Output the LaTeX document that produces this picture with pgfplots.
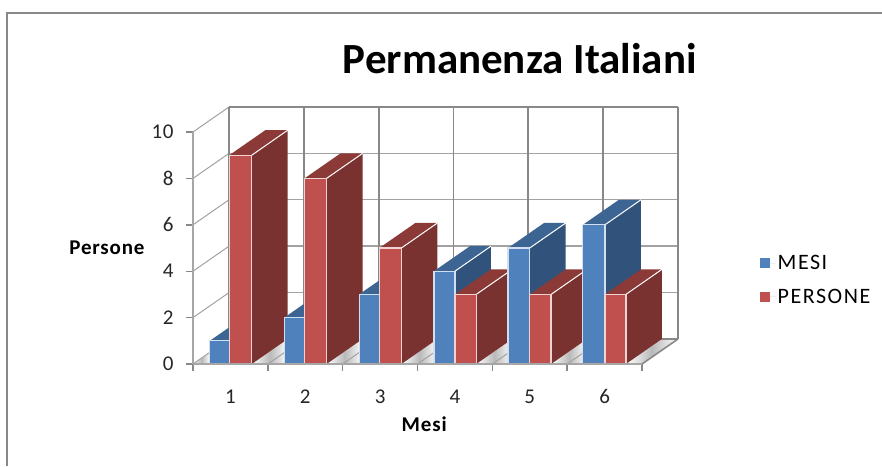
\documentclass[border=0pt]{standalone}
\usepackage{fontspec}
\setmainfont{Carlito}
\newfontfamily\spaziato[LetterSpace=7]{Carlito}
\newfontfamily\cifre[LetterSpace=3]{Carlito}
\newfontfamily\etichetta[LetterSpace=4]{Carlito Bold}
\usepackage{pgfplots}
\pgfplotsset{compat=1.18}
\definecolor{griglia}{HTML}{888888}
\definecolor{griglial}{HTML}{A2A2A2}
\definecolor{assi}{HTML}{A6A6A6}
\definecolor{bluF}{HTML}{4F81BD}
\definecolor{bluL}{HTML}{31527A}
\definecolor{bluT}{HTML}{3C6594}
\definecolor{rosF}{HTML}{C0504D}
\definecolor{rosL}{HTML}{7A3230}
\definecolor{rosT}{HTML}{8C3A38}
% oblique offset of the depth direction, in axis units
\newcommand{\px}{0.481}
\newcommand{\py}{1.078}
% one column: left edge, right edge, value, palette prefix
\newcommand{\colonna}[4]{%
  \pgfmathsetmacro\xB{#2+\px}%
  \pgfmathsetmacro\xC{#1+\px}%
  \pgfmathsetmacro\yC{#3+\py}%
  \addplot[fill=#4L,draw=none,forget plot] coordinates {(#2,0)(\xB,\py)(\xB,\yC)(#2,#3)} --cycle;
  \addplot[fill=#4T,draw=none,forget plot] coordinates {(#1,#3)(#2,#3)(\xB,\yC)(\xC,\yC)} --cycle;
  \addplot[draw=white,line width=1pt,forget plot] coordinates {(#2,#3)(\xB,\yC)};
  \addplot[fill=#4F,draw=white!75!#4F,line width=1.2pt,forget plot] coordinates {(#1,0)(#2,0)(#2,#3)(#1,#3)} --cycle;
}
\tikzset{pavimento/.style={left color=white,right color=white,middle color=gray!55,draw=none}}
\begin{document}
\begin{tikzpicture}[x=1pt,y=1pt]
\fill[white,use as bounding box] (0,0) rectangle (882,466);
\draw[griglia,line width=1.2pt] (7,0) -- (7,453) -- (882,453);
\begin{axis}[
  at={(193pt,102pt)},anchor=south west,
  scale only axis,width=449pt,height=232pt,
  xmin=0,xmax=6,ymin=0,ymax=10,
  clip=false,no markers,axis on top,
  axis x line=bottom,axis y line=left,
  axis line style={-,draw=assi,line width=2.2pt},
  xtick={0,1,2,3,4,5,6},xticklabels={},
  ytick={0,2,4,6,8,10},
  extra x ticks={0.5,1.5,2.5,3.5,4.5,5.5},
  extra x tick labels={1,2,3,4,5,6},
  extra x tick style={major tick length=0pt},
  tick style={draw=griglia,line width=1.4pt},
  tick align=outside,major tick length=7pt,
  /pgf/number format/assume math mode=true,
  tick label style={font=\fontsize{21}{21}\selectfont\cifre,text=black!85},
  xticklabel style={yshift=-22pt},
  yticklabel style={xshift=-9pt},
  title={Permanenza Italiani},
  title style={at={(rel axis cs:0.728,1.29)},anchor=center,font=\fontsize{43}{43}\selectfont\bfseries},
  xlabel={Mesi},
  xlabel style={at={(rel axis cs:0.515,-0.26)},anchor=center,font=\fontsize{21}{21}\selectfont\etichetta},
  ylabel={Persone},
  ylabel style={at={(axis cs:-1.15,5)},rotate=-90,anchor=center,font=\fontsize{21}{21}\selectfont\etichetta},
  legend style={at={(axis cs:7.53,4.87)},anchor=north west,draw=none,fill=none,
    font=\fontsize{22}{22}\selectfont\spaziato,row sep=14pt},
  legend image code/.code={\path (0pt,0pt) -- (16pt,0pt);\fill[#1] (0pt,-5pt) rectangle (10pt,5pt);},
  legend cell align=left,
]
% floor patches left visible between the columns
\addplot[pavimento,forget plot] coordinates {(0,0)(0.225,0)(0.225,0.5)} --cycle;
\addplot[pavimento,forget plot] coordinates {(0.785,0)(1.22,0)(1.266,1.078)} --cycle;
\addplot[pavimento,forget plot] coordinates {(1.785,0)(2.22,0)(2.266,1.078)} --cycle;
\addplot[pavimento,forget plot] coordinates {(2.785,0)(3.22,0)(3.266,1.078)} --cycle;
\addplot[pavimento,forget plot] coordinates {(3.785,0)(4.21,0)(4.266,1.078)} --cycle;
\addplot[pavimento,forget plot] coordinates {(4.785,0)(5.21,0)(5.266,1.078)} --cycle;
\addplot[pavimento,forget plot] coordinates {(5.785,0)(6,0)(6.481,1.078)(6.266,1.078)} --cycle;
\addplot[griglia,line width=1.6pt,forget plot] coordinates {(6,0)(6.481,1.078)};
% depth lines across the floor
\addplot[griglial,line width=1pt,forget plot] coordinates {(1,0)(1.481,1.078)};
\addplot[griglial,line width=1pt,forget plot] coordinates {(2,0)(2.481,1.078)};
\addplot[griglial,line width=1pt,forget plot] coordinates {(3,0)(3.481,1.078)};
\addplot[griglial,line width=1pt,forget plot] coordinates {(4,0)(4.481,1.078)};
\addplot[griglial,line width=1pt,forget plot] coordinates {(5,0)(5.481,1.078)};
% side wall lines
\addplot[griglial,line width=1pt,forget plot] coordinates {(0,0)(0.481,1.078)};
\addplot[griglial,line width=1pt,forget plot] coordinates {(0,2)(0.481,3.078)};
\addplot[griglial,line width=1pt,forget plot] coordinates {(0,4)(0.481,5.078)};
\addplot[griglial,line width=1pt,forget plot] coordinates {(0,6)(0.481,7.078)};
\addplot[griglial,line width=1pt,forget plot] coordinates {(0,8)(0.481,9.078)};
\addplot[griglial,line width=1pt,forget plot] coordinates {(0,10)(0.481,11.078)};
% back wall, horizontal lines
\addplot[griglia,line width=1.6pt,forget plot] coordinates {(0.481,1.078)(6.481,1.078)};
\addplot[griglial,line width=1.4pt,forget plot] coordinates {(0.481,3.078)(6.481,3.078)};
\addplot[griglial,line width=1.4pt,forget plot] coordinates {(0.481,5.078)(6.481,5.078)};
\addplot[griglial,line width=1.4pt,forget plot] coordinates {(0.481,7.078)(6.481,7.078)};
\addplot[griglial,line width=1.4pt,forget plot] coordinates {(0.481,9.078)(6.481,9.078)};
\addplot[griglia,line width=2pt,forget plot] coordinates {(0.481,11.078)(6.481,11.078)};
% back wall, vertical lines
\addplot[griglia,line width=2pt,forget plot] coordinates {(0.481,1.078)(0.481,11.078)};
\addplot[griglia,line width=1.7pt,forget plot] coordinates {(1.481,1.078)(1.481,11.078)};
\addplot[griglia,line width=1.7pt,forget plot] coordinates {(2.481,1.078)(2.481,11.078)};
\addplot[griglia,line width=1.7pt,forget plot] coordinates {(3.481,1.078)(3.481,11.078)};
\addplot[griglia,line width=1.7pt,forget plot] coordinates {(4.481,1.078)(4.481,11.078)};
\addplot[griglia,line width=1.7pt,forget plot] coordinates {(5.481,1.078)(5.481,11.078)};
\addplot[griglia,line width=2pt,forget plot] coordinates {(6.481,1.078)(6.481,11.078)};
% columns, left to right so each covers the side of the previous one
\colonna{0.225}{0.485}{1}{blu}
\colonna{0.485}{0.785}{9}{ros}
\colonna{1.22}{1.49}{2}{blu}
\colonna{1.49}{1.785}{8}{ros}
\colonna{2.22}{2.49}{3}{blu}
\colonna{2.49}{2.785}{5}{ros}
\colonna{3.22}{3.50}{4}{blu}
\colonna{3.50}{3.785}{3}{ros}
\colonna{4.21}{4.50}{5}{blu}
\colonna{4.50}{4.785}{3}{ros}
\colonna{5.21}{5.505}{6}{blu}
\colonna{5.505}{5.785}{3}{ros}
\addlegendimage{fill=bluF,draw=none}
\addlegendentry{MESI}
\addlegendimage{fill=rosF,draw=none}
\addlegendentry{PERSONE}
\end{axis}
\end{tikzpicture}
\end{document}
